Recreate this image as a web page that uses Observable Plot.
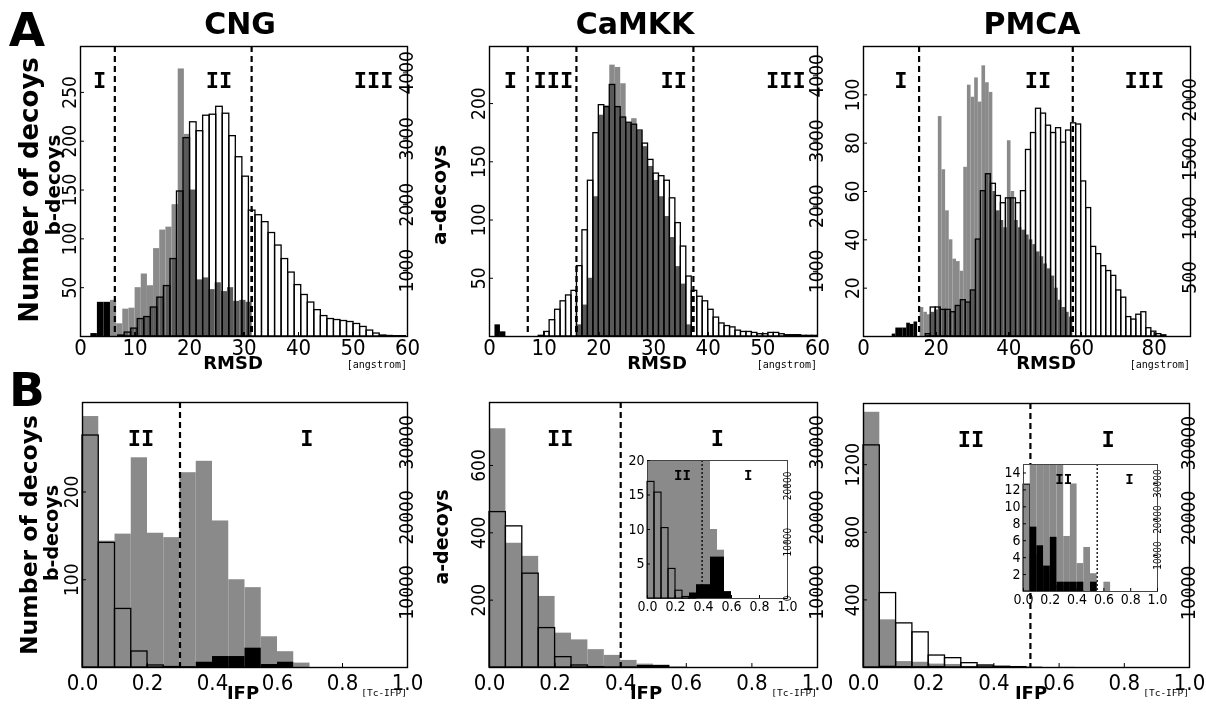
<!DOCTYPE html>
<html><head><meta charset="utf-8">
<script src="https://cdn.jsdelivr.net/npm/d3@7"></script>
<script src="https://cdn.jsdelivr.net/npm/@observablehq/plot@0.6"></script>
<style>
body{margin:0;background:#fff;}
#root{position:relative;width:1206px;height:704px;overflow:hidden;background:#fff;}
</style></head><body><div id="root"></div>
<script>
// ================= DATA =================
// ---- Row A : RMSD histograms (bin start, bin width, counts) ----
// CNG
const cngA_aStart = 6.9, cngA_aWidth = 1.2;   // a-decoys (right axis, outlined)
const cngA_a = [15, 60, 120, 265, 295, 440, 590, 765, 1175, 2200, 3010, 3250, 3115, 3350, 3365, 3485, 3380, 3040, 2720, 2425, 1910, 1840, 1735, 1570, 1380, 1175, 970, 780, 630, 515, 400, 310, 265, 250, 235, 220, 190, 145, 90, 45, 15, 8, 5, 5];
const cngA_bStart = 5.5, cngA_bWidth = 1.13;  // b-decoys (left axis, gray)
const cngA_b = [37, 13, 28, 29, 50, 64, 52, 90, 109, 112, 135, 274, 207, 150, 58, 60, 48, 55, 46, 50, 36, 37, 35];
const cngA_kStart = 1.9, cngA_kWidth = 1.2;   // near-native b-decoys (black)
const cngA_k = [3, 35, 35];
const cngA_cuts = [6.3, 31.4];
const cngA_regionNames = ["I", "II", "III"];
const cngA_regionAt = [3.5, 25.4, 53.8];
// CaMKK
const camkkA_aStart = 9, camkkA_aWidth = 1.0;
const camkkA_a = [10, 70, 250, 410, 540, 630, 700, 1080, 1630, 2390, 3120, 3550, 3520, 3860, 3520, 3360, 3280, 3250, 3160, 2960, 2710, 2500, 2460, 2390, 2120, 1740, 1380, 920, 700, 610, 540, 410, 290, 200, 160, 140, 90, 70, 70, 55, 35, 35, 55, 55, 35, 20, 20, 20, 10, 10, 10];
const camkkA_bStart = 16, camkkA_bWidth = 1.0;
const camkkA_b = [10, 27, 50, 120, 190, 198, 233, 231, 217, 183, 187, 176, 163, 146, 134, 120, 103, 85, 60, 45, 10];
const camkkA_kStart = 1, camkkA_kWidth = 1.0;
const camkkA_k = [10, 4];
const camkkA_cuts = [7.0, 15.9, 37.3];
const camkkA_regionNames = ["I", "III", "II", "III"];
const camkkA_regionAt = [3.8, 11.7, 33.7, 54.2];
// PMCA
const pmcaA_aStart = 17.12, pmcaA_aWidth = 1.38;
const pmcaA_a = [20, 245, 245, 225, 225, 205, 258, 307, 287, 389, 819, 1228, 1371, 1290, 1187, 1126, 1167, 1167, 1126, 1228, 1576, 1719, 1924, 1883, 1781, 1719, 1760, 1638, 1740, 1801, 1791, 1310, 1085, 757, 696, 594, 553, 512, 389, 328, 164, 143, 184, 205, 70, 41, 20, 10];
const pmcaA_bStart = 15.6, pmcaA_bWidth = 1.0;
const pmcaA_b = [12, 10, 9, 10, 11, 91, 69, 52, 40, 32, 31, 27, 70, 104, 99, 107, 97, 112, 105, 101, 60, 52, 48, 45, 81, 60, 48, 45, 44, 42, 40, 38, 35, 33, 30, 28, 25, 20, 15, 12, 10, 8];
const pmcaA_kStart = 7.9, pmcaA_kWidth = 1.0;
const pmcaA_k = [1, 3.5, 3.5, 3.5, 5.5, 5, 6];
const pmcaA_cuts = [15.3, 57.6];
const pmcaA_regionNames = ["I", "II", "III"];
const pmcaA_regionAt = [10.3, 48, 77.3];

// ---- Row B : IFP histograms (bins of 0.05 starting at given value) ----
const ifpWidth = 0.05;
const cngB_b = [286, 144, 152, 239, 153, 148, 222, 235, 167, 100, 91, 35, 18, 5];
const cngB_a = [30900, 16600, 7800, 2130, 270, 60];
const cngB_kStart = 0.3;
const cngB_k = [1, 6, 12.5, 12.5, 22, 3.4, 6];
const cngB_cuts = [0.3];
const cngB_regionNames = ["II", "I"];
const cngB_regionAt = [0.18, 0.69];

const camkkB_b = [709, 369, 330, 211, 102, 82, 53, 36, 21, 10, 7];
const camkkB_a = [20700, 18800, 12500, 5250, 1380, 270, 50];
const camkkB_kStart = 0.3;
const camkkB_k = [0.8, 2, 2, 6, 6, 1];
const camkkB_cuts = [0.4];
const camkkB_regionNames = ["II", "I"];
const camkkB_regionAt = [0.216, 0.695];
const camkkIn_cuts = [0.39];
const camkkIn_regionAt = [0.25, 0.72];

const pmcaB_b = [1510, 282, 35, 31, 20, 18, 6.5, 12.7, 3.3, 5.2, 2.1, 0, 1.1];
const pmcaB_a = [29700, 9950, 5900, 4700, 1600, 1250, 580, 270, 100, 50];
const pmcaB_kStart = 0;
const pmcaB_k = [0, 7.6, 5.4, 3, 6.4, 1.1, 1.1, 1.1, 1.1, 0, 1.1];
const pmcaB_cuts = [0.512];
const pmcaB_regionNames = ["II", "I"];
const pmcaB_regionAt = [0.33, 0.75];
const pmcaIn_cuts = [0.55];
const pmcaIn_regionAt = [0.3, 0.79];

// ---- tick values ----
const rmsdTicks60 = [0, 10, 20, 30, 40, 50, 60];
const rmsdTicks90 = [0, 20, 40, 60, 80];
const ifpTicks = [0, 0.2, 0.4, 0.6, 0.8, 1.0];
const cngA_bTicks = [50, 100, 150, 200, 250];
const camkkA_bTicks = [50, 100, 150, 200];
const pmcaA_bTicks = [20, 40, 60, 80, 100];
const aTicksCng = [1000, 2000, 3000, 4000];
const aTicksPmca = [500, 1000, 1500, 2000];
const cngB_bTicks = [100, 200];
const camkkB_bTicks = [200, 400, 600];
const pmcaB_bTicks = [400, 800, 1200];
const aTicksB = [10000, 20000, 30000];
const camkkIn_bTicks = [5, 10, 15, 20];
const camkkIn_aTicks = [0, 10000, 20000];
const pmcaIn_bTicks = [2, 4, 6, 8, 10, 12, 14];

// ================= DRAWING =================
const root = document.getElementById("root");
const GRAY = "#8a8a8a";
const NARROW = '"Liberation Sans Narrow", "DejaVu Sans Condensed", "Liberation Sans", sans-serif';
const MONO = '"DejaVu Sans Mono", "Liberation Mono", monospace';
const HEAVY = '"DejaVu Sans", "Liberation Sans", sans-serif';

function bins(start, width, counts) {
  return counts.map((v, i) => ({x1: start + i * width, x2: start + (i + 1) * width, v}));
}
function regions(names, at) { return names.map((t, i) => ({t, x: at[i]})); }

function layer(o, yDomain, marks, attach = true) {
  const {L, R, T, B} = o.frame;
  const mL = 70, mR = 70, mT = 12, mB = 40;
  const svg = Plot.plot({
    width: R - L + mL + mR, height: B - T + mT + mB,
    marginLeft: mL, marginRight: mR, marginTop: mT, marginBottom: mB,
    x: {domain: o.xDomain, axis: null, label: null}, y: {domain: yDomain, clamp: true, axis: null, label: null},
    style: {background: "none", overflow: "visible", fontFamily: NARROW, color: "black"},
    marks
  });
  Object.assign(svg.style, {position: "absolute", left: (L - mL) + "px", top: (T - mT) + "px"});
  if (attach) root.appendChild(svg);
  return svg;
}

function drawPanel(o) {
  const w = o.frame.R - o.frame.L, h = o.frame.B - o.frame.T;
  const tl = o.tickLen ?? 4;
  const bMarks = [];
  if (o.background && !o.whiteBelow) bMarks.push(Plot.frame({fill: "white", stroke: null}));
  bMarks.push(Plot.rect(o.gray, {x1: "x1", x2: "x2", y1: 0, y2: "v", fill: GRAY, filter: o.grayFilter}));
  if (o.black) bMarks.push(Plot.rect(o.black, {x1: "x1", x2: "x2", y1: 0, y2: "v", fill: "black"}));
  bMarks.push(Plot.ruleX(o.cuts, {stroke: "black", strokeWidth: o.cutWidth ?? 2.2, strokeDasharray: o.cutDash ?? "6,4"}));
  bMarks.push(Plot.text(o.regions, {x: "x", text: "t", frameAnchor: "top", dy: o.regionDy, fontFamily: MONO, fontWeight: "bold", fontSize: o.regionSize}));
  bMarks.push(Plot.frame({stroke: o.frameStroke ?? "black", strokeWidth: o.frameWidth ?? 1.4}));
  bMarks.push(Plot.axisX(o.xTicks, {label: null, tickSize: 0, tickPadding: o.xPad, fontSize: o.xFont, tickFormat: o.xFmt}));
  bMarks.push(Plot.ruleX(o.xTicks, {insetTop: h - tl, strokeWidth: 1}));
  bMarks.push(Plot.axisY(o.bTicks, {label: null, anchor: "left", tickSize: 0, tickPadding: o.bPad, fontSize: o.bFont, tickRotate: o.bRot === false ? 0 : -90, tickFormat: d => String(d)}));
  bMarks.push(Plot.ruleY(o.bTicks, {insetRight: w - tl, strokeWidth: 1}));

  const aMarks = [];
  if (o.background && o.whiteBelow) aMarks.push(Plot.frame({fill: "white", stroke: null}));
  // darkens only where the a-decoy bars overlap the gray b-decoy bars (white stays white)
  if (o.merge) aMarks.push(Plot.rect(o.white, {x1: "x1", x2: "x2", y1: 0, y2: "v", fill: "#b4b4b4", mixBlendMode: "color-burn"}));
  aMarks.push(Plot.rect(o.white, {x1: "x1", x2: "x2", y1: 0, y2: "v", fill: o.whiteFill ?? "none", stroke: "black", strokeWidth: o.barStroke ?? 1.3}));
  aMarks.push(Plot.axisY(o.aTicks, {label: null, anchor: "right", tickSize: 0, tickPadding: o.aPad, fontSize: o.aFont, tickRotate: -90, tickFormat: d => String(d)}));
  aMarks.push(Plot.ruleY(o.aTicks, {insetLeft: w - tl, strokeWidth: 1}));

  if (o.merge) {
    const base = layer(o, o.bDomain, bMarks);
    const top = layer(o, o.aDomain, aMarks, false);
    for (const child of [...top.childNodes]) if (child.tagName !== "style") base.appendChild(child);
  } else if (o.whiteBelow) { layer(o, o.aDomain, aMarks); layer(o, o.bDomain, bMarks); }
  else { layer(o, o.bDomain, bMarks); layer(o, o.aDomain, aMarks); }
}

const rowA = {xFont: 22, xPad: 3, bFont: 19, bPad: 5, aFont: 19, aPad: 5, regionDy: 26, regionSize: 22, xFmt: d => String(d), merge: true};
const rowB = {xFont: 22, xPad: 7, bFont: 19, bPad: 5, aFont: 19, aPad: 5, regionDy: 28, regionSize: 22, xFmt: d => d.toFixed(1)};
const inset = {xFont: 14, xPad: 3, bFont: 14, bPad: 3, bRot: false, aFont: 10, aPad: 3, regionDy: 10, regionSize: 14,
  xFmt: d => d.toFixed(1), cutDash: "2,2", cutWidth: 1.3, frameStroke: "#444", frameWidth: 1, tickLen: 3, barStroke: 1.1, background: true};

// Row A
drawPanel({...rowA, frame: {L: 80, R: 407, T: 46, B: 336}, xDomain: [0, 60], xTicks: rmsdTicks60,
  bDomain: [0, 297], bTicks: cngA_bTicks, aDomain: [0, 4400], aTicks: aTicksCng,
  gray: bins(cngA_bStart, cngA_bWidth, cngA_b), black: bins(cngA_kStart, cngA_kWidth, cngA_k),
  white: bins(cngA_aStart, cngA_aWidth, cngA_a), cuts: cngA_cuts, regions: regions(cngA_regionNames, cngA_regionAt)});
drawPanel({...rowA, frame: {L: 489, R: 817, T: 46, B: 336}, xDomain: [0, 60], xTicks: rmsdTicks60,
  bDomain: [0, 249], bTicks: camkkA_bTicks, aDomain: [0, 4450], aTicks: aTicksCng,
  gray: bins(camkkA_bStart, camkkA_bWidth, camkkA_b), black: bins(camkkA_kStart, camkkA_kWidth, camkkA_k),
  white: bins(camkkA_aStart, camkkA_aWidth, camkkA_a), cuts: camkkA_cuts, regions: regions(camkkA_regionNames, camkkA_regionAt)});
drawPanel({...rowA, frame: {L: 863, R: 1190, T: 46, B: 336}, xDomain: [0, 90], xTicks: rmsdTicks90,
  bDomain: [0, 120], bTicks: pmcaA_bTicks, aDomain: [0, 2450], aTicks: aTicksPmca,
  gray: bins(pmcaA_bStart, pmcaA_bWidth, pmcaA_b), black: bins(pmcaA_kStart, pmcaA_kWidth, pmcaA_k),
  white: bins(pmcaA_aStart, pmcaA_aWidth, pmcaA_a), cuts: pmcaA_cuts, regions: regions(pmcaA_regionNames, pmcaA_regionAt)});

// Row B
drawPanel({...rowB, frame: {L: 82, R: 407, T: 402, B: 667}, xDomain: [0, 1], xTicks: ifpTicks,
  bDomain: [0, 302], bTicks: cngB_bTicks, aDomain: [0, 35300], aTicks: aTicksB,
  gray: bins(0, ifpWidth, cngB_b), black: bins(cngB_kStart, ifpWidth, cngB_k),
  white: bins(0, ifpWidth, cngB_a), cuts: cngB_cuts, regions: regions(cngB_regionNames, cngB_regionAt)});
drawPanel({...rowB, frame: {L: 489, R: 817, T: 402, B: 667}, xDomain: [0, 1], xTicks: ifpTicks,
  bDomain: [0, 787], bTicks: camkkB_bTicks, aDomain: [0, 35300], aTicks: aTicksB,
  gray: bins(0, ifpWidth, camkkB_b), black: bins(camkkB_kStart, ifpWidth, camkkB_k),
  white: bins(0, ifpWidth, camkkB_a), cuts: camkkB_cuts, regions: regions(camkkB_regionNames, camkkB_regionAt)});
drawPanel({...rowB, frame: {L: 863, R: 1189, T: 403, B: 667}, xDomain: [0, 1], xTicks: ifpTicks,
  bDomain: [0, 1562], bTicks: pmcaB_bTicks, aDomain: [0, 35300], aTicks: aTicksB,
  gray: bins(0, ifpWidth, pmcaB_b), black: bins(pmcaB_kStart, ifpWidth, pmcaB_k),
  white: bins(0, ifpWidth, pmcaB_a), cuts: pmcaB_cuts, regions: regions(pmcaB_regionNames, pmcaB_regionAt)});

// Insets (zoom on the near-native range)
drawPanel({...inset, frame: {L: 647, R: 787, T: 460, B: 598}, xDomain: [0, 1], xTicks: ifpTicks,
  bDomain: [0, 20], bTicks: camkkIn_bTicks, aDomain: [0, 24500], aTicks: camkkIn_aTicks,
  gray: bins(0, ifpWidth, camkkB_b), black: bins(camkkB_kStart, ifpWidth, camkkB_k),
  white: bins(0, ifpWidth, camkkB_a), cuts: camkkIn_cuts, regions: regions(camkkB_regionNames, camkkIn_regionAt)});
drawPanel({...inset, frame: {L: 1023, R: 1157, T: 464, B: 591}, xDomain: [0, 1], xTicks: ifpTicks,
  bDomain: [0, 15], bTicks: pmcaIn_bTicks, aDomain: [0, 35300], aTicks: aTicksB,
  gray: bins(0, ifpWidth, pmcaB_b), grayFilter: d => d.x1 > 0, black: bins(pmcaB_kStart, ifpWidth, pmcaB_k),
  white: bins(0, ifpWidth, pmcaB_a), whiteFill: GRAY, whiteBelow: true,
  cuts: pmcaIn_cuts, regions: regions(pmcaB_regionNames, pmcaIn_regionAt)});

// ================= TEXT =================
function txt(s, x, y, {size = 18, family = HEAVY, weight = "bold", rot = 0, align = "center"} = {}) {
  const d = document.createElement("div");
  d.textContent = s;
  Object.assign(d.style, {position: "absolute", left: x + "px", top: y + "px", fontSize: size + "px",
    fontFamily: family, fontWeight: weight, lineHeight: "1", whiteSpace: "nowrap", color: "#000",
    transform: `translate(${align === "right" ? "-100%" : "-50%"},-50%) rotate(${rot}deg)`,
    transformOrigin: align === "right" ? "100% 50%" : "50% 50%"});
  root.appendChild(d);
}
txt("A", 27, 29, {size: 47});
txt("B", 27, 389, {size: 47});
txt("CNG", 240, 24, {size: 30});
txt("CaMKK", 635, 24, {size: 30});
txt("PMCA", 1032, 24, {size: 30});
txt("Number of decoys", 29, 190, {size: 26, rot: -90});
txt("Number of decoys", 30, 535, {size: 23.5, rot: -90});
txt("b-decoys", 53, 185, {size: 20, rot: -90});
txt("b-decoys", 51, 533, {size: 19, rot: -90});
txt("a-decoys", 439, 195, {size: 20, rot: -90});
txt("a-decoys", 441, 537, {size: 19, rot: -90});
[[233, 407], [657, 817], [1046, 1190]].forEach(([cx, r]) => {
  txt("RMSD", cx, 363, {size: 18});
  txt("[angstrom]", r, 365, {size: 10, family: MONO, weight: "normal", align: "right"});
});
[[243, 407], [646, 817], [1031, 1189]].forEach(([cx, r]) => {
  txt("IFP", cx, 693, {size: 18});
  txt("[Tc-IFP]", r, 693, {size: 9.5, family: MONO, weight: "normal", align: "right"});
});
</script></body></html>
